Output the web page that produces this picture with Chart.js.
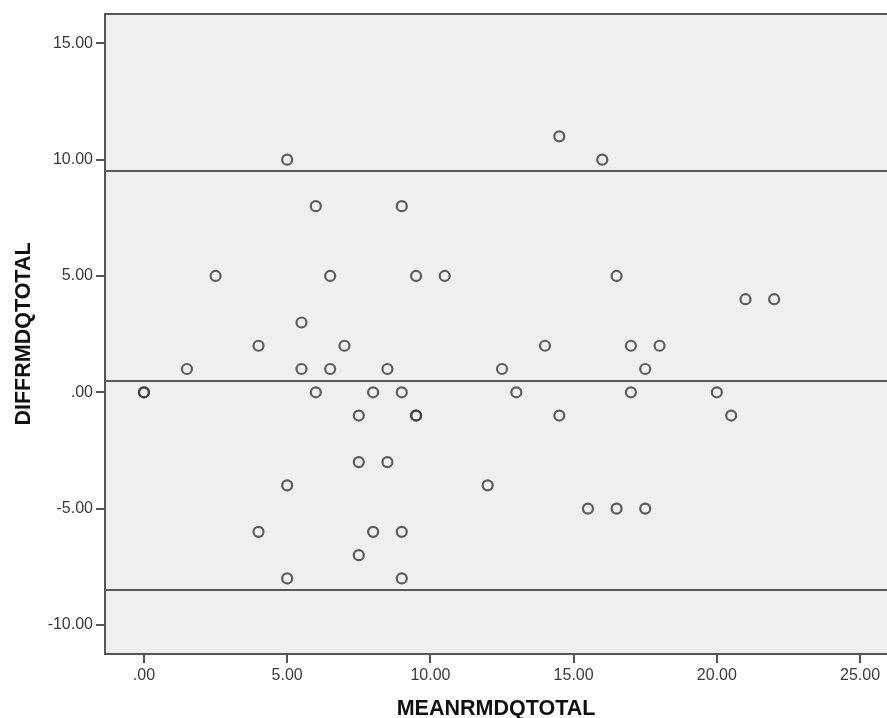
<!DOCTYPE html>
<html>
<head>
<meta charset="utf-8">
<script src="https://cdn.jsdelivr.net/npm/chart.js@4/dist/chart.umd.min.js"></script>
<style>
    html, body { margin: 0; padding: 0; background: #ffffff; overflow: hidden; }
    #wrap { width: 887px; height: 718px; }
    canvas { display: block; }
</style>
</head>
<body>
<div id="wrap"><canvas id="bland-chart" width="887" height="718"></canvas></div>
<script>
// mean of the two RMDQ totals (x) and their difference (y), one entry per case
var meanValues = [0, 0, 1.5, 2.5, 4, 4, 5, 5, 5, 5.5, 5.5, 6, 6, 6.5, 6.5, 7, 7.5, 7.5, 7.5, 8, 8, 8.5, 8.5,
    9, 9, 9, 9, 9.5, 9.5, 9.5, 10.5, 12, 12.5, 13, 14, 14.5, 14.5, 15.5, 16, 16.5, 16.5, 17, 17, 17.5, 17.5,
    18, 20, 20.5, 21, 22];
var diffValues = [0, 0, 1, 5, 2, -6, 10, -4, -8, 3, 1, 8, 0, 5, 1, 2, -1, -3, -7, 0, -6, 1, -3,
    8, 0, -6, -8, 5, -1, -1, 5, -4, 1, 0, 2, 11, -1, -5, 10, 5, -5, 2, 0, 1, -5,
    2, 0, -1, 4, 4];

// upper limit, mean difference, lower limit
var limitValues = [9.51, 0.49, -8.5];

var xTickValues = [0, 5, 10, 15, 20, 25];
var yTickValues = [-10, -5, 0, 5, 10, 15];
var xRange = [-1.36, 25.94];
var yRange = [-11.25, 16.26];

var fontFamily = "'Liberation Sans', Arial, sans-serif";

function fmtTick(v) {
    var s = Number(v).toFixed(2);
    return s.replace(/^(-?)0\./, '$1.');
}

// grey plot background plus the top frame line
var plotFrame = {
    id: 'plotFrame',
    beforeDraw: function(chart) {
        var a = chart.chartArea, ctx = chart.ctx;
        ctx.save();
        ctx.fillStyle = '#efefef';
        ctx.fillRect(a.left, a.top, a.right - a.left, a.bottom - a.top);
        ctx.strokeStyle = '#555555';
        ctx.lineWidth = 2;
        ctx.beginPath();
        ctx.moveTo(a.left, a.top);
        ctx.lineTo(a.right, a.top);
        ctx.stroke();
        ctx.restore();
    }
};

var points = meanValues.map(function(m, i) {
    return { x: m, y: diffValues[i] };
});

var datasets = limitValues.map(function(v) {
    return {
        data: [{ x: xRange[0], y: v }, { x: xRange[1], y: v }],
        showLine: true,
        borderColor: '#5a5a5a',
        borderWidth: 2,
        pointRadius: 0,
        order: 2
    };
});
datasets.push({
    data: points,
    pointStyle: 'circle',
    pointRadius: 5,
    borderWidth: 2.2,
    borderColor: 'rgba(55,55,55,0.8)',
    backgroundColor: 'rgba(0,0,0,0)',
    order: 1
});

var ctx = document.getElementById('bland-chart');

new Chart(ctx, {
    type: 'scatter',
    data: { datasets: datasets },
    options: {
        responsive: false,
        animation: false,
        layout: { autoPadding: false, padding: { top: 14, right: 0, left: 0, bottom: 0 } },
        plugins: {
            legend: { display: false },
            tooltip: { enabled: false }
        },
        scales: {
            x: {
                type: 'linear',
                min: xRange[0],
                max: xRange[1],
                afterFit: function(s) {
                    s.height = 64;
                    s.paddingLeft = 0;
                    s.paddingRight = 0;
                },
                afterBuildTicks: function(s) {
                    s.ticks = xTickValues.map(function(v) { return { value: v }; });
                },
                border: { display: true, color: '#555555', width: 2 },
                grid: { drawOnChartArea: false, drawTicks: true, tickLength: 9, color: '#555555', lineWidth: 2 },
                ticks: {
                    padding: 3,
                    maxRotation: 0,
                    color: '#3a3a3a',
                    font: { family: fontFamily, size: 16 },
                    callback: fmtTick
                },
                title: {
                    display: true,
                    text: 'MEANRMDQTOTAL',
                    color: '#111111',
                    padding: { top: 0, bottom: 0 },
                    font: { family: fontFamily, size: 21.5, weight: 'bold', lineHeight: 0.8 }
                }
            },
            y: {
                type: 'linear',
                min: yRange[0],
                max: yRange[1],
                afterFit: function(s) {
                    s.width = 105;
                    s.paddingTop = 0;
                    s.paddingBottom = 0;
                },
                afterBuildTicks: function(s) {
                    s.ticks = yTickValues.map(function(v) { return { value: v }; });
                },
                border: { display: true, color: '#555555', width: 2 },
                grid: { drawOnChartArea: false, drawTicks: true, tickLength: 9, color: '#555555', lineWidth: 2 },
                ticks: {
                    padding: 3,
                    color: '#3a3a3a',
                    font: { family: fontFamily, size: 16 },
                    callback: fmtTick
                },
                title: {
                    display: true,
                    text: 'DIFFRMDQTOTAL',
                    color: '#111111',
                    padding: { top: 11, bottom: 0 },
                    font: { family: fontFamily, size: 21.5, weight: 'bold' }
                }
            }
        }
    },
    plugins: [plotFrame]
});
</script>
</body>
</html>
